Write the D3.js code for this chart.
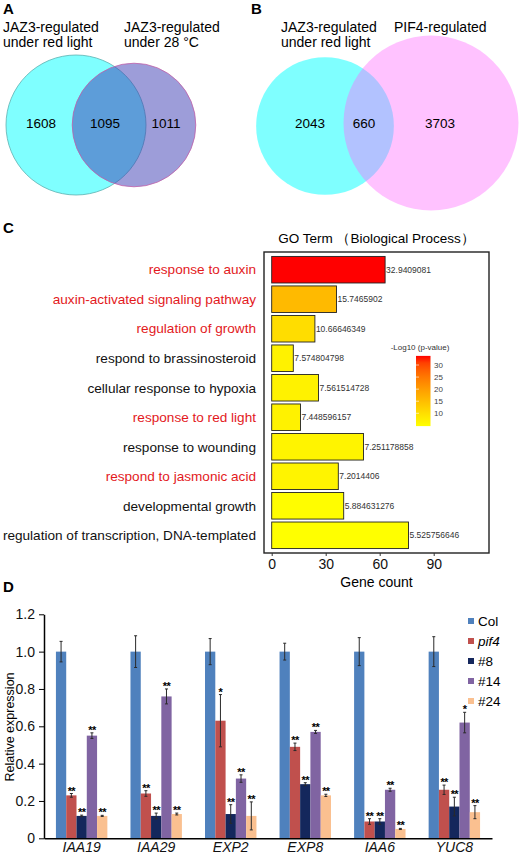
<!DOCTYPE html>
<html lang="en">
<head>
  <meta charset="UTF-8" />
  <title>JAZ3 / PIF4 figure</title>
  <script src="https://d3js.org/d3.v7.min.js"></script>
  <style>
    html, body { margin: 0; padding: 0; background: #fff; }
    svg { display: block; font-family: "Liberation Sans", Arial, Helvetica, sans-serif; }
    .panel-letter { font-weight: bold; font-size: 15px; }
  </style>
</head>
<body>
  <svg width="520" height="855"></svg>

  <script>
    // ---------------------------------------------------------
    // Data
    // ---------------------------------------------------------
    // A: JAZ3 red light vs JAZ3 28 °C  (left only, overlap, right only)
    const vennATitles = [["JAZ3-regulated", "under red light"], ["JAZ3-regulated", "under 28 °C"]];
    const vennACounts = [1608, 1095, 1011];

    // B: JAZ3 red light vs PIF4
    const vennBTitles = [["JAZ3-regulated", "under red light"], ["PIF4-regulated"]];
    const vennBCounts = [2043, 660, 3703];

    // C: GO terms
    const goTerms = [
      "response to auxin",
      "auxin-activated signaling pathway",
      "regulation of growth",
      "respond to brassinosteroid",
      "cellular response to hypoxia",
      "response to red light",
      "response to wounding",
      "respond to jasmonic acid",
      "developmental growth",
      "regulation of transcription, DNA-templated"
    ];
    const goCounts = [63, 36, 24, 12, 26, 16, 51, 37, 40, 76];
    const goLogP = [32.9409081, 15.7465902, 10.66646349, 7.574804798, 7.561514728,
                    7.448596157, 7.251178858, 7.2014406, 5.884631276, 5.525756646];
    const goRedTerms = ["response to auxin", "auxin-activated signaling pathway",
                        "regulation of growth", "response to red light", "respond to jasmonic acid"];
    const goTicks = [0, 30, 60, 90];
    const legendTicks = [10, 15, 20, 25, 30];

    // D: qRT-PCR
    const genes = ["IAA19", "IAA29", "EXP2", "EXP8", "IAA6", "YUC8"];
    const lines = ["Col", "pif4", "#8", "#14", "#24"];
    const colMean  = [1, 1, 1, 1, 1, 1];
    const colErr   = [0.055, 0.085, 0.07, 0.045, 0.075, 0.08];
    const pif4Mean = [0.23, 0.24, 0.63, 0.49, 0.09, 0.26];
    const pif4Err  = [0.01, 0.015, 0.14, 0.02, 0.015, 0.025];
    const l8Mean   = [0.12, 0.12, 0.13, 0.29, 0.09, 0.17];
    const l8Err    = [0.004, 0.015, 0.05, 0.008, 0.015, 0.05];
    const l14Mean  = [0.55, 0.76, 0.32, 0.57, 0.26, 0.62];
    const l14Err   = [0.015, 0.04, 0.02, 0.008, 0.008, 0.055];
    const l24Mean  = [0.12, 0.13, 0.12, 0.23, 0.05, 0.14];
    const l24Err   = [0.003, 0.005, 0.075, 0.006, 0.003, 0.035];
    const colStars  = ["", "", "", "", "", ""];
    const pif4Stars = ["**", "**", "*", "**", "**", "**"];
    const l8Stars   = ["**", "**", "**", "**", "**", "**"];
    const l14Stars  = ["**", "**", "**", "**", "**", "*"];
    const l24Stars  = ["**", "**", "**", "**", "**", "**"];
    const exprTicks = [0, 0.2, 0.4, 0.6, 0.8, 1.0, 1.2];

    const svg = d3.select("svg");

    // ---------------------------------------------------------
    // Venn diagrams (A, B)
    // ---------------------------------------------------------
    function drawVenn(opt) {
      const g = svg.append("g");
      const sizes = [opt.counts[0] + opt.counts[1], opt.counts[1] + opt.counts[2]];
      const r = d3.scaleSqrt().domain([0, d3.max(sizes)]).range([0, opt.maxR]);

      opt.circles.forEach((c, i) => {
        g.append("circle")
          .attr("cx", c.cx).attr("cy", c.cy)
          .attr("r", r(sizes[i]))
          .attr("fill", c.fill)
          .attr("fill-opacity", c.opacity)
          .attr("stroke", c.stroke || "none")
          .attr("stroke-width", 0.8);
      });

      opt.counts.forEach((n, i) => {
        g.append("text")
          .attr("x", opt.countX[i]).attr("y", 128)
          .attr("text-anchor", "middle")
          .attr("font-size", 13.5)
          .text(n);
      });

      opt.titles.forEach((t, i) => {
        t.forEach((line, j) => {
          g.append("text")
            .attr("x", opt.titleX[i]).attr("y", 32 + j * 15)
            .attr("font-size", 14)
            .text(line);
        });
      });

      svg.append("text").attr("class", "panel-letter")
        .attr("x", opt.letterX).attr("y", 14).text(opt.letter);
    }

    drawVenn({
      letter: "A", letterX: 3,
      counts: vennACounts, titles: vennATitles,
      maxR: 70,
      circles: [
        { cx: 76, cy: 125, fill: "#00ffff", opacity: 0.5, stroke: "#5fb0b0" },
        { cx: 134, cy: 125, fill: "#3c3cb4", opacity: 0.5, stroke: "#c060a8" }
      ],
      countX: [41, 105, 166],
      titleX: [3, 124]
    });

    drawVenn({
      letter: "B", letterX: 251,
      counts: vennBCounts, titles: vennBTitles,
      maxR: 87.5,
      circles: [
        { cx: 325, cy: 126, fill: "#00ffff", opacity: 0.5 },
        { cx: 431, cy: 123, fill: "#ff66ff", opacity: 0.4 }
      ],
      countX: [310, 364, 440],
      titleX: [281, 394]
    });

    // ---------------------------------------------------------
    // C: GO term bar chart
    // ---------------------------------------------------------
    const boxC = { left: 264, right: 489, top: 252, bottom: 553 };
    const gC = svg.append("g");

    svg.append("text").attr("class", "panel-letter")
      .attr("x", 3).attr("y", 233).text("C");

    gC.append("text")
      .attr("x", (boxC.left + boxC.right) / 2).attr("y", 243)
      .attr("text-anchor", "middle").attr("font-size", 13.5)
      .text("GO Term （Biological Process）");

    const xC = d3.scaleLinear().domain([0, 90]).range([271.7, 433.7]);
    const yC = d3.scaleBand().domain(goTerms)
      .range([boxC.top, boxC.bottom]).paddingInner(0.1).paddingOuter(0.15);
    const colorC = d3.scaleLinear()
      .domain([d3.min(goLogP), d3.max(goLogP)])
      .range(["#ffff00", "#ff0000"])
      .interpolate(d3.interpolateLab);

    gC.selectAll("rect.go")
      .data(goTerms)
      .join("rect")
      .attr("class", "go")
      .attr("x", xC(0))
      .attr("y", d => yC(d))
      .attr("width", (d, i) => xC(goCounts[i]) - xC(0))
      .attr("height", yC.bandwidth())
      .attr("fill", (d, i) => colorC(goLogP[i]))
      .attr("stroke", "#222")
      .attr("stroke-width", 0.9);

    gC.selectAll("text.val")
      .data(goTerms)
      .join("text")
      .attr("class", "val")
      .attr("x", (d, i) => xC(goCounts[i]) + 1)
      .attr("y", d => yC(d) + yC.bandwidth() / 2)
      .attr("dy", "0.35em")
      .attr("font-size", 8.5)
      .attr("fill", "#333")
      .text((d, i) => goLogP[i]);

    gC.selectAll("text.term")
      .data(goTerms)
      .join("text")
      .attr("class", "term")
      .attr("x", 256)
      .attr("y", d => yC(d) + yC.bandwidth() / 2)
      .attr("dy", "0.35em")
      .attr("text-anchor", "end")
      .attr("font-size", 13.6)
      .attr("fill", d => goRedTerms.includes(d) ? "#e3191c" : "#111")
      .text(d => d);

    // frame
    gC.append("rect")
      .attr("x", boxC.left).attr("y", boxC.top)
      .attr("width", boxC.right - boxC.left).attr("height", boxC.bottom - boxC.top)
      .attr("fill", "none").attr("stroke", "#222").attr("stroke-width", 1.4);

    const axisC = gC.append("g")
      .attr("transform", `translate(0,${boxC.bottom})`)
      .call(d3.axisBottom(xC).tickValues(goTicks).tickSize(3).tickPadding(3));
    axisC.select(".domain").remove();
    axisC.selectAll("line").attr("stroke", "#333");
    axisC.selectAll("text").attr("font-size", 14).attr("fill", "#111")
      .attr("font-family", "'Liberation Sans', Arial, sans-serif");

    gC.append("text")
      .attr("x", (boxC.left + boxC.right) / 2).attr("y", 587)
      .attr("text-anchor", "middle").attr("font-size", 14)
      .text("Gene count");

    // colour legend
    const legY = d3.scaleLinear().domain([10, 30]).range([413.3, 365]);
    const grad = svg.append("defs").append("linearGradient")
      .attr("id", "goGrad").attr("x1", 0).attr("x2", 0).attr("y1", 1).attr("y2", 0);
    d3.range(0, 1.0001, 0.1).forEach(t => {
      const v = d3.min(goLogP) + t * (d3.max(goLogP) - d3.min(goLogP));
      grad.append("stop").attr("offset", t).attr("stop-color", colorC(v));
    });
    gC.append("rect")
      .attr("x", 416).attr("width", 14.5)
      .attr("y", legY(d3.max(goLogP)) - 2)
      .attr("height", legY(d3.min(goLogP)) - legY(d3.max(goLogP)) + 4)
      .attr("fill", "url(#goGrad)");
    gC.selectAll("line.legtick")
      .data(legendTicks)
      .join("line")
      .attr("class", "legtick")
      .attr("x1", 416).attr("x2", 419)
      .attr("y1", d => legY(d)).attr("y2", d => legY(d))
      .attr("stroke", "#fff").attr("stroke-opacity", 0.6);
    gC.selectAll("text.legtick")
      .data(legendTicks)
      .join("text")
      .attr("class", "legtick")
      .attr("x", 434)
      .attr("y", d => legY(d))
      .attr("dy", "0.35em")
      .attr("font-size", 8)
      .attr("fill", "#444")
      .text(d => d);
    gC.append("text")
      .attr("x", 420).attr("y", 350)
      .attr("text-anchor", "middle").attr("font-size", 8).attr("fill", "#333")
      .text("-Log10 (p-value)");

    // ---------------------------------------------------------
    // D: relative expression bar chart
    // ---------------------------------------------------------
    const lineMeans = [colMean, pif4Mean, l8Mean, l14Mean, l24Mean];
    const lineErrs = [colErr, pif4Err, l8Err, l14Err, l24Err];
    const lineStars = [colStars, pif4Stars, l8Stars, l14Stars, l24Stars];
    const lineColors = ["#4f81bd", "#c0504d", "#14275c", "#8064a2", "#fac090"];

    const rows = [];
    genes.forEach((gene, gi) => {
      lines.forEach((ln, li) => {
        rows.push({
          gene, line: ln,
          mean: lineMeans[li][gi], err: lineErrs[li][gi], star: lineStars[li][gi],
          color: lineColors[li]
        });
      });
    });

    const gD = svg.append("g");
    svg.append("text").attr("class", "panel-letter")
      .attr("x", 3).attr("y", 592).text("D");

    const x0 = d3.scaleBand().domain(genes).range([44, 492])
      .paddingInner(0.31).paddingOuter(0.16);
    const x1 = d3.scaleBand().domain(lines).range([0, x0.bandwidth()]);
    const yD = d3.scaleLinear().domain([0, 1.2]).range([838.3, 614.3]);

    gD.selectAll("rect.bar")
      .data(rows)
      .join("rect")
      .attr("class", "bar")
      .attr("x", d => x0(d.gene) + x1(d.line))
      .attr("y", d => yD(d.mean))
      .attr("width", x1.bandwidth())
      .attr("height", d => yD(0) - yD(d.mean))
      .attr("fill", d => d.color);

    const errG = gD.selectAll("g.err")
      .data(rows)
      .join("g")
      .attr("class", "err")
      .attr("transform", d => `translate(${x0(d.gene) + x1(d.line) + x1.bandwidth() / 2},0)`);
    errG.append("line")
      .attr("y1", d => yD(d.mean - d.err)).attr("y2", d => yD(d.mean + d.err))
      .attr("stroke", "#2a2a2a").attr("stroke-width", 1);
    errG.append("line")
      .attr("x1", -1.5).attr("x2", 1.5)
      .attr("y1", d => yD(d.mean + d.err)).attr("y2", d => yD(d.mean + d.err))
      .attr("stroke", "#2a2a2a").attr("stroke-width", 1);
    errG.append("line")
      .attr("x1", -1.5).attr("x2", 1.5)
      .attr("y1", d => yD(d.mean - d.err)).attr("y2", d => yD(d.mean - d.err))
      .attr("stroke", "#2a2a2a").attr("stroke-width", 1);
    errG.append("text")
      .attr("y", d => yD(d.mean + d.err) + 1)
      .attr("text-anchor", "middle")
      .attr("font-size", 11)
      .attr("font-weight", "bold")
      .attr("letter-spacing", -0.6)
      .attr("fill", "#000")
      .text(d => d.star);

    // axes
    const axisY = gD.append("g")
      .attr("transform", "translate(44,0)")
      .call(d3.axisLeft(yD).tickValues(exprTicks).tickSize(5).tickSizeOuter(0).tickPadding(4)
        .tickFormat(d => d === 0 ? "0" : d3.format(".1f")(d)));
    axisY.select(".domain").attr("stroke", "#000").attr("stroke-width", 1.5);
    axisY.selectAll("text").attr("font-size", 14).attr("fill", "#111")
      .attr("font-family", "'Liberation Sans', Arial, sans-serif");

    const axisX = gD.append("g")
      .attr("transform", `translate(0,${yD(0)})`)
      .call(d3.axisBottom(x0).tickSize(0).tickSizeOuter(0).tickPadding(4));
    axisX.select(".domain").attr("stroke", "#000").attr("stroke-width", 1.5);
    axisX.selectAll("text").attr("font-size", 14).attr("font-style", "italic").attr("fill", "#111")
      .attr("font-family", "'Liberation Sans', Arial, sans-serif");

    gD.append("text")
      .attr("transform", "translate(14,727) rotate(-90)")
      .attr("text-anchor", "middle").attr("font-size", 12.5)
      .text("Relative expression");

    // legend
    const legD = gD.selectAll("g.leg")
      .data(lines)
      .join("g")
      .attr("class", "leg")
      .attr("transform", (d, i) => `translate(468,${621 + i * 20})`);
    legD.append("rect")
      .attr("x", 0).attr("y", -3).attr("width", 6).attr("height", 6)
      .attr("fill", (d, i) => lineColors[i]);
    legD.append("text")
      .attr("x", 10).attr("dy", "0.35em")
      .attr("font-size", 13.5)
      .attr("font-style", d => d === "pif4" ? "italic" : "normal")
      .text(d => d);
  </script>
</body>
</html>
